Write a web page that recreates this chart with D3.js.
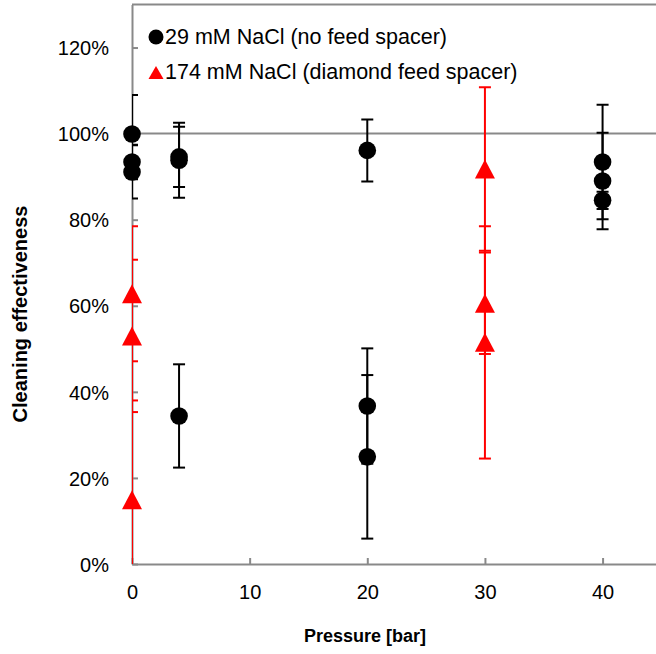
<!DOCTYPE html>
<html>
<head>
<meta charset="utf-8">
<script src="https://cdn.jsdelivr.net/npm/d3@7"></script>
<style>
  body { margin: 0; background: #fff; }
  svg { display: block; font-family: "Liberation Sans", Arial, sans-serif; }
</style>
</head>
<body>
<svg id="chart" width="656" height="654"></svg>
<script>
// series 1: 29 mM NaCl (no feed spacer)
var blackX   = [0, 0, 0, 4, 4, 4, 20, 20, 20, 40, 40, 40];
var blackY   = [99.9, 93.4, 91.1, 93.8, 94.6, 34.4, 96.1, 36.7, 24.9, 93.4, 89.0, 84.5];
var blackErr = [9.1, 4.0, 6.2, 8.7, 7.0, 12.0, 7.2, 13.4, 19.0, 13.3, 11.2, 2.0];

// series 2: 174 mM NaCl (diamond feed spacer)
var redX   = [0, 0, 0, 30, 30, 30];
var redY   = [62.8, 53.0, 14.9, 91.8, 60.6, 51.5];
var redErr = [15.7, 17.7, 23.1, 19.0, 11.8, 27.0];

var seriesNames = ["29 mM NaCl (no feed spacer)", "174 mM NaCl (diamond feed spacer)"];
var xTicks = [0, 10, 20, 30, 40];
var yTicks = [0, 20, 40, 60, 80, 100, 120];
var refLine = 100;

var svg = d3.select("#chart");
var axisCol = "#898989";

// scales
var x = d3.scaleLinear().domain([0, 45]).range([132, 661.4]);
var y = d3.scaleLinear().domain([0, 130]).range([564, 4.5]);

// clip for error bars
svg.append("defs").append("clipPath").attr("id", "plotClip")
  .append("rect")
  .attr("x", x(0)).attr("y", y(130))
  .attr("width", x(45) - x(0)).attr("height", y(0) - y(130));

// plot frame (top edge) and reference line at 100%
svg.append("line")
  .attr("x1", x(0)).attr("x2", x(45))
  .attr("y1", y(130)).attr("y2", y(130))
  .attr("stroke", axisCol).attr("stroke-width", 2);
svg.append("line")
  .attr("x1", x(0)).attr("x2", x(45))
  .attr("y1", y(refLine)).attr("y2", y(refLine))
  .attr("stroke", axisCol).attr("stroke-width", 2);

// axes
var xAxis = d3.axisBottom(x).tickValues(xTicks).tickSizeInner(-6).tickSizeOuter(0).tickPadding(20);
var gx = svg.append("g").attr("transform", "translate(0," + y(0) + ")").call(xAxis);
var yAxis = d3.axisLeft(y).tickValues(yTicks).tickSizeInner(-6).tickSizeOuter(0)
  .tickPadding(24).tickFormat(function(d) { return d + "%"; });
var gy = svg.append("g").attr("transform", "translate(" + x(0) + ",0)").call(yAxis);

[gx, gy].forEach(function(g) {
  g.select(".domain").attr("stroke", axisCol).attr("stroke-width", 2);
  g.selectAll(".tick line").attr("stroke", axisCol).attr("stroke-width", 2);
  g.selectAll(".tick text").attr("fill", "#000").attr("font-size", 20)
    .attr("font-family", "Liberation Sans, Arial, sans-serif");
});
gy.selectAll(".tick text").attr("dy", "0.36em").attr("x", -23);
gx.selectAll(".tick text").attr("dy", "0.75em");

// axis titles
svg.append("text")
  .attr("x", 365).attr("y", 642)
  .attr("text-anchor", "middle").attr("font-weight", "bold").attr("font-size", 18)
  .text("Pressure [bar]");
svg.append("text")
  .attr("transform", "translate(27,314) rotate(-90)")
  .attr("text-anchor", "middle").attr("font-weight", "bold").attr("font-size", 20)
  .text("Cleaning effectiveness");

function drawErrors(xs, ys, es, color) {
  var g = svg.append("g").attr("clip-path", "url(#plotClip)")
    .attr("stroke", color).attr("stroke-width", 2).attr("fill", "none");
  var idx = d3.range(xs.length);
  g.selectAll("line.v").data(idx).join("line")
    .attr("x1", function(i) { return x(xs[i]); })
    .attr("x2", function(i) { return x(xs[i]); })
    .attr("y1", function(i) { return y(ys[i] + es[i]); })
    .attr("y2", function(i) { return y(ys[i] - es[i]); });
  [1, -1].forEach(function(s) {
    g.selectAll("line.cap" + (s > 0 ? "u" : "d")).data(idx).join("line")
      .attr("x1", function(i) { return x(xs[i]) - 6; })
      .attr("x2", function(i) { return x(xs[i]) + 6; })
      .attr("y1", function(i) { return y(ys[i] + s * es[i]); })
      .attr("y2", function(i) { return y(ys[i] + s * es[i]); });
  });
}

function trianglePath(w, h) {
  return "M0," + (-h / 2) + "L" + (w / 2) + "," + (h / 2) + "L" + (-w / 2) + "," + (h / 2) + "Z";
}

// series 1
drawErrors(blackX, blackY, blackErr, "#000");
svg.append("g").selectAll("circle").data(d3.range(blackX.length)).join("circle")
  .attr("cx", function(i) { return x(blackX[i]); })
  .attr("cy", function(i) { return y(blackY[i]); })
  .attr("r", 8.8).attr("fill", "#000");

// series 2
drawErrors(redX, redY, redErr, "#ff0000");
svg.append("g").selectAll("path").data(d3.range(redX.length)).join("path")
  .attr("transform", function(i) { return "translate(" + x(redX[i]) + "," + y(redY[i]) + ")"; })
  .attr("d", trianglePath(20, 19)).attr("fill", "#ff0000");

// legend
var leg = svg.append("g");
leg.append("circle").attr("cx", 156).attr("cy", 37).attr("r", 7.5).attr("fill", "#000");
leg.append("path").attr("transform", "translate(156,72.5)").attr("d", trianglePath(15, 13)).attr("fill", "#ff0000");
leg.selectAll("text").data(seriesNames).join("text")
  .attr("x", 165).attr("y", function(d, i) { return 44 + i * 35; })
  .attr("font-size", 21.5).attr("fill", "#000")
  .text(function(d) { return d; });
</script>
</body>
</html>
